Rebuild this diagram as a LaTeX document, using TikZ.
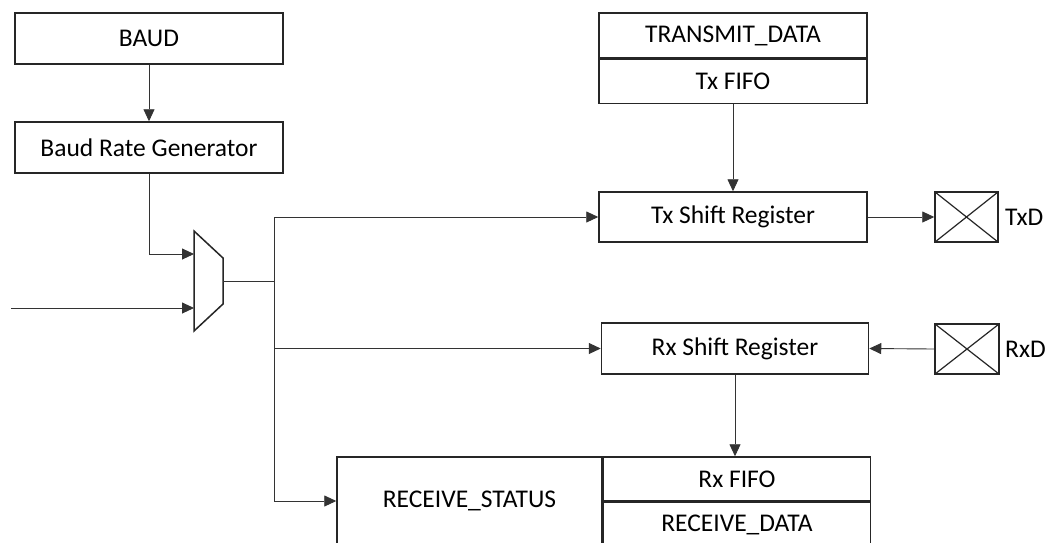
\documentclass[tikz,border=0pt]{standalone}
\usepackage{fontspec}
\setmainfont{Carlito}
\usetikzlibrary{arrows.meta,calc}
\begin{document}
\begin{tikzpicture}[x=1pt,y=-1pt,
  blk/.style={draw=black!85, line width=1.5pt, inner sep=0pt, font=\fontsize{25.5}{30}\selectfont},
  pad/.style={draw=black!85, line width=1.5pt, inner sep=0pt, minimum width=63pt, minimum height=50pt,
    path picture={\draw[line width=1.2pt] (path picture bounding box.north west) -- (path picture bounding box.south east)
      (path picture bounding box.north east) -- (path picture bounding box.south west);}},
  lbl/.style={font=\fontsize{25.5}{30}\selectfont, anchor=west, inner sep=0pt},
  conn/.style={draw=black!80, line width=0.9pt},
  arr/.style={conn, -{Triangle[length=12pt,width=11pt]}}
]
\useasboundingbox (0,0) rectangle (1054,542);
\clip (0,0) rectangle (1054,542);
\fill[white] (0,0) rectangle (1054,542);

% left column
\node[blk, minimum width=268pt, minimum height=51pt] (baud) at (149,38.5) {BAUD};
\node[blk, minimum width=268pt, minimum height=51pt] (brg) at (149,147.5) {Baud Rate Generator};

% mux
\draw[draw=black!85, line width=1.5pt] (194,231) -- (223,258) -- (223,304) -- (194,331) -- cycle;
\coordinate (muxin1) at (194,254);
\coordinate (muxin2) at (194,308);
\coordinate (muxout) at (223,281);
\coordinate (ext) at (11,308);
\coordinate (jn) at (274,281);

% transmit side
\node[blk, minimum width=268pt, minimum height=45pt] (tdata) at (733,35.5) {TRANSMIT\_DATA};
\node[blk, minimum width=268pt, minimum height=44pt, anchor=north] (txfifo) at (tdata.south) {Tx FIFO};
\node[blk, minimum width=268pt, minimum height=50pt] (txs) at (733,217) {Tx Shift Register};
\node[pad] (txd) at (966.5,217) {};
\node[lbl] (txdl) at (1005,217) {TxD};

% receive side
\node[blk, minimum width=267pt, minimum height=51pt] (rxs) at (735,348.5) {Rx Shift Register};
\node[pad, minimum width=64pt] (rxd) at (967,349) {};
\node[lbl] (rxdl) at (1005,349) {RxD};

% bottom block
\node[blk, minimum width=265pt, minimum height=88pt] (status) at (469.5,501) {RECEIVE\_STATUS};
\node[blk, minimum width=267pt, minimum height=44pt, anchor=north west] (rxfifo) at (status.north east) {Rx FIFO};
\node[blk, minimum width=267pt, minimum height=44pt, anchor=north] (rdata) at (rxfifo.south) {RECEIVE\_DATA};

% connectors
\draw[arr] (baud.south) -- (brg.north);
\draw[arr] (brg.south) |- (muxin1);
\draw[arr] (ext) -- (muxin2);
\draw[conn] (muxout) -- (jn);
\draw[arr] (jn) |- (txs.west);
\draw[arr] (jn) |- (rxs.west);
\draw[arr] (jn) |- (status.west);
\draw[arr] (txfifo.south) -- (txs.north);
\draw[arr] (txs.east) -- (txd.west);
\draw[arr] (rxd.west) -- (rxs.east);
\draw[arr] (rxs.south) -- (rxs.south |- rxfifo.north);
\end{tikzpicture}
\end{document}
